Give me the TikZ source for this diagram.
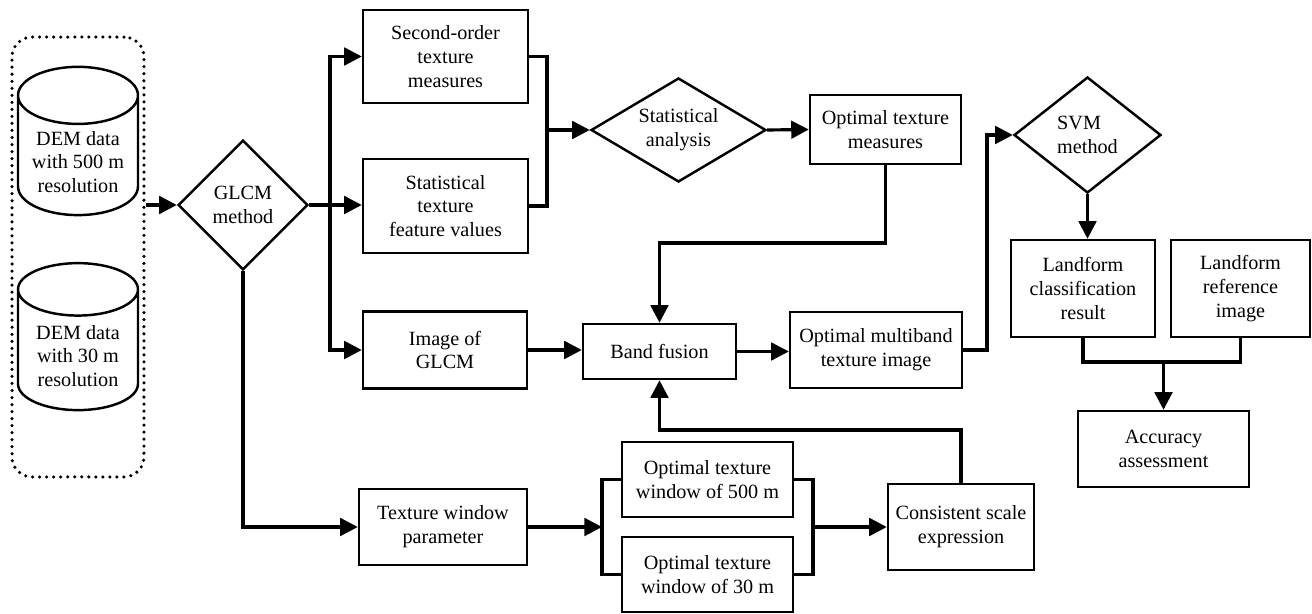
\documentclass[tikz,border=0pt]{standalone}
\usepackage{fontspec}
\setmainfont{Liberation Serif}
\usetikzlibrary{
    shapes.geometric,
    arrows.meta,
    positioning,
    calc
}

\begin{document}
\begin{tikzpicture}[
        x=0.02cm, y=-0.02cm,
        blk/.style={rectangle, draw, line width=1.4pt, align=center, inner sep=2pt, font=\fontsize{11.5}{13.6}\selectfont},
        dec/.style={diamond, draw, line width=1.4pt, align=center, inner sep=0pt, font=\fontsize{11.5}{13.6}\selectfont},
        db/.style={cylinder, shape border rotate=90, draw, line width=1.4pt, shape aspect=0.55, align=center, font=\fontsize{11.5}{13.6}\selectfont},
        arrow/.style={-{Triangle[length=10pt, width=10pt]}, line width=1.8pt},
        link/.style={line width=1.8pt}
    ]
        \useasboundingbox (0,0) rectangle (1312,614);

        \node[draw, line width=2pt, line cap=round, dash pattern=on 0pt off 4pt, rounded corners=0.4cm,
            minimum width=2.64cm, minimum height=8.8cm] (src) at (78,257) {};
        \node[db, minimum width=2.4cm, minimum height=2.94cm] (dem500) at (78,162) {DEM data\\with 500 m\\resolution};
        \node[db, minimum width=2.4cm, minimum height=2.94cm] (dem30) at (78,356) {DEM data\\with 30 m\\resolution};

        \node[dec, minimum width=2.6cm, minimum height=2.6cm] (glcm) at (243,205) {GLCM\\method};
        \node[blk, minimum width=3.3cm, minimum height=1.86cm] (second) at (445.5,56.5) {Second-order\\texture\\measures};
        \node[blk, minimum width=3.3cm, minimum height=1.88cm] (stattex) at (445.5,206) {Statistical\\texture\\feature values};
        \node[blk, minimum width=3.28cm, minimum height=1.54cm] (imgglcm) at (445,350) {Image of\\GLCM};
        \node[blk, minimum width=3.36cm, minimum height=1.52cm] (twin) at (443,527) {Texture window\\parameter};

        \node[dec, aspect=1.7, minimum width=3.5cm, minimum height=2.08cm] (statan) at (678.5,130) {Statistical\\analysis};
        \node[blk, minimum width=3.02cm, minimum height=1.38cm] (optmeas) at (885.5,129.5) {Optimal texture\\measures};
        \node[blk, minimum width=3.06cm, minimum height=1.1cm] (band) at (659.5,351.5) {Band fusion};
        \node[blk, minimum width=3.44cm, minimum height=1.52cm] (multi) at (876,350) {Optimal multiband\\texture image};

        \node[blk, minimum width=3.42cm, minimum height=1.5cm] (win500) at (707.5,479.5) {Optimal texture\\window of 500 m};
        \node[blk, minimum width=3.42cm, minimum height=1.5cm] (win30) at (707.5,574.5) {Optimal texture\\window of 30 m};
        \node[blk, minimum width=2.92cm, minimum height=1.72cm] (consist) at (961,527) {Consistent scale\\expression};

        \node[dec, aspect=1.2, minimum width=2.94cm, minimum height=2.32cm, align=left] (svm) at (1087.5,135) {SVM\\method};
        \node[blk, minimum width=2.88cm, minimum height=1.94cm] (landcls) at (1083,288.5) {Landform\\classification\\result};
        \node[blk, minimum width=2.78cm, minimum height=1.94cm] (landref) at (1240.5,288.5) {Landform\\reference\\image};
        \node[blk, minimum width=3.42cm, minimum height=1.52cm] (acc) at (1163.5,449) {Accuracy\\assessment};

        \coordinate (br) at (330,205);
        \coordinate (m1) at (547,130);
        \coordinate (j1) at (885.5,243);
        \coordinate (j2) at (987,135);
        \coordinate (j3) at (1163.5,362);
        \coordinate (j4) at (961,430);
        \coordinate (lb) at (602,527);
        \coordinate (rb) at (813,527);

        \draw[arrow] (src.east |- glcm) -- (glcm.west);
        \draw[arrow] (glcm.east) -- (glcm.east -| stattex.west);
        \draw[arrow] (br) |- (second.west);
        \draw[arrow] (br) |- (imgglcm.west);
        \draw[arrow] (glcm.south) |- (twin.west);

        \draw[link] (second.east) -| (m1 |- stattex.east) -- (stattex.east);
        \draw[arrow] (m1) -- (statan.west);
        \draw[arrow] (statan.east) -- (optmeas.west);
        \draw[arrow] (optmeas.south) -- (j1) -| (band.north);
        \draw[arrow] (imgglcm.east) -- (imgglcm.east -| band.west);
        \draw[arrow] (band.east) -- (band.east -| multi.west);
        \draw[arrow] (multi.east) -| (j2) -- (svm.west);
        \draw[arrow] (svm.south) -- (svm.south |- landcls.north);
        \draw[link] (landcls.south) |- (landref.south |- j3) -- (landref.south);
        \draw[arrow] (j3) -- (acc.north);

        \draw[arrow] (twin.east) -- (lb);
        \draw[link] (win500.west) -| (lb) |- (win30.west);
        \draw[link] (win500.east) -| (rb) |- (win30.east);
        \draw[arrow] (rb) -- (consist.west);
        \draw[arrow] (consist.north) -- (j4) -| (band.south);
    \end{tikzpicture}
\end{document}
